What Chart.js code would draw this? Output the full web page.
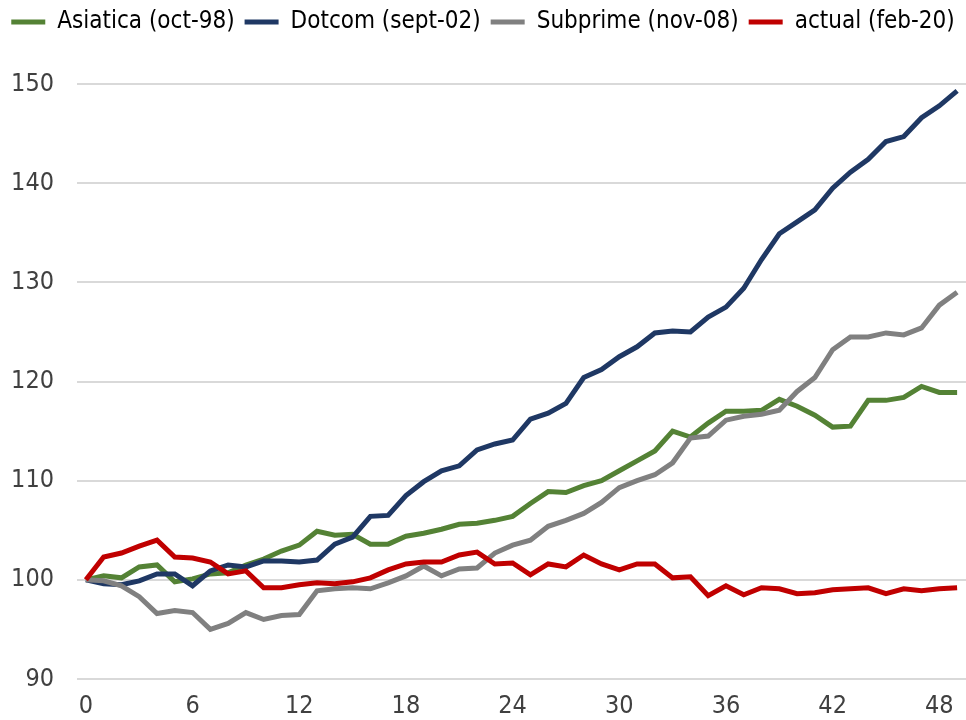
<!DOCTYPE html>
<html lang="es">

<head>
    <meta charset="UTF-8">
    <title>Crisis comparadas</title>
    <script src="https://cdn.jsdelivr.net/npm/chart.js@4.4.1/dist/chart.umd.min.js"></script>
    <style>
        body { margin: 0; background: #ffffff; }
        #grafico { display: block; }
    </style>
</head>

<body>
    <canvas id="grafico" width="966" height="720"></canvas>

<script>

// meses desde el inicio de cada crisis (0..49)
const meses = ['0','1','2','3','4','5','6','7','8','9','10','11','12','13','14','15','16','17','18','19',
    '20','21','22','23','24','25','26','27','28','29','30','31','32','33','34','35','36','37','38','39',
    '40','41','42','43','44','45','46','47','48','49'];

// base 100
const asiatica = [100, 100.4, 100.2, 101.3, 101.5, 99.8, 100.1, 100.6, 100.7, 101.5,
    102.1, 102.9, 103.5, 104.9, 104.5, 104.6, 103.6, 103.6, 104.4, 104.7,
    105.1, 105.6, 105.7, 106.0, 106.4, 107.7, 108.9, 108.8, 109.5, 110.0,
    111.0, 112.0, 113.0, 115.0, 114.4, 115.8, 117.0, 117.0, 117.1, 118.2,
    117.5, 116.6, 115.4, 115.5, 118.1, 118.1, 118.4, 119.5, 118.9, 118.9];

const dotcom = [100, 99.6, 99.5, 99.9, 100.6, 100.6, 99.4, 100.9, 101.5, 101.3,
    101.9, 101.9, 101.8, 102.0, 103.6, 104.3, 106.4, 106.5, 108.5, 109.9,
    111.0, 111.5, 113.1, 113.7, 114.1, 116.2, 116.8, 117.8, 120.4, 121.2,
    122.5, 123.5, 124.9, 125.1, 125.0, 126.5, 127.5, 129.4, 132.3, 134.9,
    136.1, 137.3, 139.5, 141.1, 142.4, 144.2, 144.7, 146.6, 147.8, 149.3];

const subprime = [100, 99.9, 99.4, 98.3, 96.6, 96.9, 96.7, 95.0, 95.6, 96.7,
    96.0, 96.4, 96.5, 98.9, 99.1, 99.2, 99.1, 99.7, 100.4, 101.4,
    100.4, 101.1, 101.2, 102.7, 103.5, 104.0, 105.4, 106.0, 106.7, 107.8,
    109.3, 110.0, 110.6, 111.8, 114.3, 114.5, 116.1, 116.5, 116.7, 117.1,
    119.0, 120.4, 123.2, 124.5, 124.5, 124.9, 124.7, 125.4, 127.7, 129.0];

const actual = [100, 102.3, 102.7, 103.4, 104.0, 102.3, 102.2, 101.8, 100.6, 100.9,
    99.2, 99.2, 99.5, 99.7, 99.6, 99.8, 100.2, 101.0, 101.6, 101.8,
    101.8, 102.5, 102.8, 101.6, 101.7, 100.5, 101.6, 101.3, 102.5, 101.6,
    101.0, 101.6, 101.6, 100.2, 100.3, 98.4, 99.4, 98.5, 99.2, 99.1,
    98.6, 98.7, 99.0, 99.1, 99.2, 98.6, 99.1, 98.9, 99.1, 99.2];

const nombresSeries = ['Asiatica (oct-98)', 'Dotcom (sept-02)', 'Subprime (nov-08)', 'actual (feb-20)'];
const coloresSeries = ['#548235', '#1f3864', '#808080', '#c00000'];

const fuente = "'Liberation Sans Narrow', 'DejaVu Sans Condensed', sans-serif";
Chart.defaults.font.family = fuente;
Chart.defaults.color = '#404040';

function serie(i, valores) {
    return {
        label: nombresSeries[i],
        data: valores,
        borderColor: coloresSeries[i],
        backgroundColor: coloresSeries[i],
        borderWidth: 5,
        pointRadius: 0,
        tension: 0,
        fill: false,
        order: 4 - i // la ultima serie queda encima, como en el original
    };
}

const dados = {
    labels: meses,
    datasets: [
        serie(0, asiatica),
        serie(1, dotcom),
        serie(2, subprime),
        serie(3, actual)
    ]
};

// deja espacio entre la leyenda y el grafico
const espacioLeyenda = {
    id: 'espacioLeyenda',
    beforeInit(chart) {
        const fitOriginal = chart.legend.fit;
        chart.legend.fit = function () {
            fitOriginal.bind(chart.legend)();
            this.height += 40;
        };
    }
};

const config = {
    type: 'line',
    data: dados,
    plugins: [espacioLeyenda],
    options: {
        responsive: false,
        animation: false,
        layout: { padding: 0 },
        plugins: {
            tooltip: { enabled: false },
            legend: {
                position: 'top',
                labels: {
                    font: { size: 24 },
                    boxWidth: 34,
                    boxHeight: 5,
                    padding: 10,
                    sort: (a, b) => a.datasetIndex - b.datasetIndex,
                    generateLabels: function (chart) {
                        return chart.data.datasets.map(function (ds, i) {
                            return {
                                text: ds.label,
                                fillStyle: ds.borderColor,
                                strokeStyle: ds.borderColor,
                                lineWidth: 0,
                                hidden: false,
                                datasetIndex: i
                            };
                        });
                    }
                }
            }
        },
        scales: {
            x: {
                type: 'category',
                offset: true,
                grid: { display: false },
                border: { display: false },
                ticks: {
                    autoSkip: false,
                    maxRotation: 0,
                    padding: 4,
                    font: { size: 25 },
                    callback: function (valor, indice) {
                        return indice % 6 === 0 ? this.getLabelForValue(valor) : '';
                    }
                },
                afterFit: function (escala) { escala.height = 41; }
            },
            y: {
                min: 90,
                max: 150,
                grid: { color: '#d9d9d9', lineWidth: 2, drawTicks: false },
                border: { display: false },
                ticks: { stepSize: 10, padding: 23, font: { size: 25 } },
                afterFit: function (escala) { escala.width = 77; }
            }
        }
    }
};

let myChart = new Chart(document.getElementById('grafico'), config);

</script>
</body>

</html>
